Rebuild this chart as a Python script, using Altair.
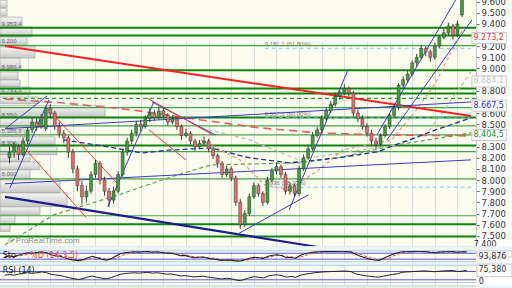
import altair as alt
import pandas as pd

# ---------------- price candles ----------------
opens = [8200,8250,8300,8230,8350,8450,8520,8480,8460,8640,8600,8480,8420,8380,8250,8100,7950,7850,7900,8050,
         8150,8000,7900,7820,7900,8050,8250,8350,8420,8500,8480,8550,8600,8560,8620,8580,8520,8550,8480,8400,
         8420,8350,8300,8330,8350,8280,8220,8150,8050,8100,8020,7800,7600,7700,7850,7950,7880,7800,8000,8080,
         8120,8050,7900,7950,7880,8100,8200,8280,8400,8450,8550,8620,8680,8750,8780,8820,8780,8600,8550,8480,
         8420,8350,8320,8400,8480,8580,8650,8850,8900,8950,9050,9100,9180,9150,9100,9200,9280,9320,9380,9300,9480]
highs = [8300,8340,8320,8380,8470,8560,8550,8590,8660,8680,8620,8520,8450,8400,8280,8130,7990,7950,8080,8180,
         8170,8030,7930,7940,8080,8280,8380,8450,8530,8540,8580,8640,8630,8660,8650,8600,8580,8570,8500,8460,
         8440,8370,8360,8390,8370,8300,8240,8170,8130,8120,8040,7830,7730,7880,7980,7970,7900,8030,8110,8160,
         8140,8070,7980,7970,8130,8230,8310,8430,8480,8580,8650,8710,8780,8810,8860,8840,8800,8630,8580,8510,
         8450,8380,8420,8500,8600,8670,8870,8930,8980,9070,9130,9210,9200,9170,9230,9300,9360,9410,9400,9430,9640]
lows = [8150,8200,8180,8210,8320,8420,8440,8460,8440,8560,8450,8380,8330,8200,8060,7900,7780,7800,7880,8020,
        7960,7860,7760,7790,7880,8030,8220,8320,8390,8440,8460,8520,8530,8540,8550,8490,8500,8450,8360,8380,
        8320,8260,8280,8310,8250,8190,8110,8020,8030,7990,7770,7560,7580,7680,7830,7850,7770,7780,7980,8050,
        8020,7870,7870,7850,7860,8080,8180,8260,8380,8430,8530,8600,8660,8720,8760,8750,8570,8520,8450,8390,
        8310,8280,8300,8380,8460,8560,8630,8820,8870,8930,9020,9080,9110,9060,9080,9180,9260,9300,9260,9280,9460]
closes = [8250,8300,8230,8350,8450,8520,8480,8560,8640,8600,8480,8420,8380,8250,8100,7950,7850,7900,8050,8150,
          8000,7900,7820,7900,8050,8250,8350,8420,8500,8480,8550,8600,8560,8620,8580,8520,8550,8480,8400,8420,
          8350,8300,8330,8350,8280,8220,8150,8050,8100,8020,7800,7600,7700,7850,7950,7880,7800,8000,8080,8120,
          8050,7900,7950,7880,8100,8200,8280,8400,8450,8550,8620,8680,8750,8780,8820,8780,8600,8550,8480,8420,
          8350,8320,8400,8480,8580,8650,8850,8900,8950,9050,9100,9180,9150,9100,9200,9280,9320,9380,9300,9400,9620]

# ---------------- oscillators ----------------
stoch_k = [40,55,45,60,75,85,80,88,95,85,65,55,50,35,20,10,5,15,35,50,35,20,10,25,50,75,85,90,95,92,
           95,97,90,95,88,80,82,70,55,58,45,35,40,42,30,22,15,8,12,10,3,2,15,30,40,35,28,50,60,65,
           55,35,40,30,60,75,85,92,95,97,98,97,98,96,97,92,70,50,35,22,12,8,30,50,70,85,95,96,97,98,
           98,97,90,85,92,95,96,97,90,94,94]
stoch_d = [45,48,50,52,60,70,78,82,86,88,82,70,58,48,35,22,12,10,18,32,38,32,20,18,28,48,68,82,90,92,
           94,95,94,93,91,86,83,77,68,60,52,45,40,40,37,30,22,15,12,10,7,5,8,16,28,35,33,38,48,58,
           60,50,42,35,42,55,72,84,91,95,97,97,97,97,96,94,85,68,50,35,22,14,16,30,50,70,84,92,95,97,
           97,97,94,90,89,91,94,96,94,93,93]
rsi14 = [52,56,52,57,61,64,61,64,68,65,57,53,51,45,40,35,32,36,43,48,42,38,35,40,48,56,60,62,64,62,
         64,66,62,64,61,57,58,54,49,50,47,44,46,47,43,40,37,34,37,35,29,25,33,40,45,42,39,48,52,54,
         50,43,46,42,52,57,60,64,66,68,69,70,71,72,72,69,58,54,50,47,44,43,48,52,56,59,66,68,69,71,
         72,73,71,69,71,73,74,75,70,72,75.38]

# ---------------- volume-at-price profile ----------------
profile_lo = [9542,9470,9374,9284,9213,9094,8990,8900,8837,8765,8684,8568,8470,8389,8318,8228,8165,8093,8004,7887,7762,7690,7601,7538]
profile_hi = [9612,9540,9461,9372,9282,9193,9092,8968,8897,8835,8745,8665,8557,8450,8387,8298,8226,8163,8091,8002,7885,7760,7688,7599]
profile_vol = [7,7,22,32,27,35,20,18,20,30,38,105,43,25,55,57,30,40,30,60,67,40,15,10]
profile_label_text = ["9.353,4", "9.200", "8.986,4", "8.793,5", "8.550", "8.386,6", "8.300", "8.000"]
profile_label_price = [9399, 9247, 9014, 8808, 8584, 8441, 8333, 8056]

# ---------------- horizontal levels ----------------
levels_thick = [9365, 9295, 8985, 8820, 8775, 8560, 8310, 7605, 7494]
levels_thin = [9205, 8650, 8485, 8405, 8255, 8010, 7680]
levels_dashed = [8732]
fib_prices = [9181.1, 8557.5, 7936.0]
fib_labels = ["9.181,1 (61,80%)", "8.557,5 (50,00%)", "7.936 (38,20%)"]
fib_start = [56.4, 56.4, 56.4]

# ---------------- trend lines (bar index, price) ----------------
blue_lines = {
    "b1": [(-1, 7967), (102, 8181)],
    "b2": [(-1, 8460), (102, 8700)],
    "b3": [(-1, 8459), (8.3, 8754)],
    "b4": [(0.1, 7930), (8.7, 8718)],
    "b5": [(21.7, 7760), (31.9, 8700)],
    "b6": [(31.5, 8700), (45.5, 8405)],
    "b7": [(50.5, 7518), (66.1, 7868)],
    "b8": [(61.8, 7733), (74.8, 8987)],
    "b9": [(81.2, 8405), (98.6, 9614)],
    "b10": [(83.4, 8360), (102.2, 9435)],
}
red_lines = {
    "r1": [(8.3, 8647), (23.9, 7967)],
    "r2": [(3.3, 8289), (17.0, 7662)],
    "r3": [(30.4, 8736), (44.9, 8405)],
    "r4": [(30.8, 8450), (39.0, 8181)],
}
red_thick = [(-1, 9202), (102, 8575)]
navy_thick = [(-1, 7850), (67.8, 7402)]

ma_red = [(-1, 8727), (12, 8691), (27.1, 8629), (42.3, 8539), (55.3, 8468), (68.3, 8423), (81.3, 8405), (102, 8396)]
ma_navy = [(12, 8360), (20.6, 8306), (29.3, 8243), (35.8, 8270), (44.5, 8288), (53.1, 8199), (61.8, 8154),
           (72.6, 8199), (81.3, 8253), (94.2, 8450), (102, 8557)]
ma_pink = [(42.3, 8360), (50.9, 8181), (56.4, 7957), (61.8, 7912), (68.3, 8091), (73.7, 8271), (79.1, 8315),
           (84.5, 8360), (89.9, 8629), (94.2, 8871), (100.1, 9345)]
ma_gray = [(42.3, 8468), (53.1, 8360), (63.9, 8181), (74.8, 8253), (85.6, 8315), (92.1, 8405), (102, 8969)]
ma_green = [(-1, 7420), (9.8, 7688), (22.8, 7850), (35.8, 8029), (44.5, 8136), (63.9, 8154), (72.6, 8199),
            (85.6, 8315), (102, 8423)]

# value boxes on the price scale
box_text = ["9.273,2", "8.884,1", "8.667,5", "8.404,5"]
box_price = [9273.2, 8884.1, 8667.5, 8404.5]
box_color = ["#e03a3a", "#c4c4c4", "#2a2ab8", "#2a8a2a"]

# axis tick labels (those hidden behind value boxes left out)
axis_ticks = [7500, 7600, 7700, 7800, 7900, 8000, 8100, 8200, 8300, 8500, 8600, 8800, 9000, 9100, 9200, 9400, 9500, 9600]

W, H = 476, 288
PX = alt.Scale(domain=[-1, 102], nice=False, zero=False)
PY = alt.Scale(domain=[7400, 9614], range=[247, 0], nice=False, zero=False)
SY = alt.Scale(domain=[-19, 105], range=[263, 250.8], nice=False, zero=False)
RY = alt.Scale(domain=[0, 100], range=[286, 265.3], nice=False, zero=False)
VX = alt.Scale(domain=[0, W], nice=False, zero=False)

grid_axis = alt.Axis(values=list(range(4, 100, 5)), grid=True, gridColor="#dcdcdc", gridWidth=1,
                     labels=False, ticks=False, domain=False, title=None)
price_axis = alt.Axis(orient="right", values=axis_ticks,
                      labelExpr="replace(format(datum.value, ','), ',', '.')",
                      tickSize=3, tickColor="#666666", domain=True, domainColor="#c8c8c8",
                      labelFont="DejaVu Sans", labelFontSize=8.5, labelColor="#333333",
                      labelPadding=2, labelOverlap=False, grid=False, title=None)


def X(f):
    return alt.X(f, type="quantitative", scale=PX, axis=grid_axis)


def Y(f):
    return alt.Y(f, type="quantitative", scale=PY, axis=price_axis)


def pts(d):
    rows = []
    for name, ps in d.items():
        for k, (x, p) in enumerate(ps):
            rows.append({"name": name, "x": x, "p": p, "o": k})
    return pd.DataFrame(rows)


def seq(ps, name="s"):
    return pts({name: ps})


candles = pd.DataFrame({"i": list(range(len(closes))), "open": opens, "high": highs,
                        "low": lows, "close": closes})

# ---------------- main price panel ----------------
wick = alt.Chart(candles).mark_rule(color="#3a3a3a", strokeWidth=1).encode(
    x=X("i"), y=Y("low"), y2="high")
body = alt.Chart(candles).transform_calculate(
    dir="datum.close >= datum.open ? 'up' : 'down'"
).mark_bar(size=3, stroke="#333333", strokeWidth=0.5).encode(
    x=X("i"), y=Y("open"), y2="close",
    color=alt.Color("dir:N", scale=alt.Scale(domain=["up", "down"], range=["#3f9f3f", "#e46e6e"]), legend=None))

lv_thick = alt.Chart(pd.DataFrame({"p": levels_thick})).mark_rule(color="#0a850a", strokeWidth=2).encode(y=Y("p"))
lv_thin = alt.Chart(pd.DataFrame({"p": levels_thin})).mark_rule(color="#44a544", strokeWidth=1.2).encode(y=Y("p"))
lv_dash = alt.Chart(pd.DataFrame({"p": levels_dashed})).mark_rule(
    color="#2e9e2e", strokeWidth=1.3, strokeDash=[4, 3]).encode(y=Y("p"))

fib_df = pd.DataFrame({"p": fib_prices, "t": fib_labels, "x": fib_start, "x2": [102] * 3})
fib_rule = alt.Chart(fib_df).mark_rule(color="#7cc4ee", strokeWidth=1, strokeDash=[4, 3]).encode(
    x=X("x"), x2="x2", y=Y("p"))
fib_text = alt.Chart(fib_df).mark_text(align="left", baseline="bottom", dy=-1, fontSize=6,
                                       font="Liberation Sans", color="#777777").encode(
    x=X("x"), y=Y("p"), text="t:N")


def line_layer(df, color, width, dash=None, opacity=1.0):
    kw = dict(color=color, strokeWidth=width, opacity=opacity)
    if dash:
        kw["strokeDash"] = dash
    return alt.Chart(df).mark_line(**kw).encode(x=X("x"), y=Y("p"), detail="name:N", order="o:Q")


ma_layers = [
    line_layer(seq(ma_green), "#4aa04a", 1.2, [4, 3]),
    line_layer(seq(ma_gray), "#bdbdbd", 1.2, [4, 3]),
    line_layer(seq(ma_red), "#e06060", 1.6, [8, 5]),
    line_layer(seq(ma_navy), "#2a2a9a", 1.3, [5, 3]),
    line_layer(seq(ma_pink), "#f08a7a", 1.2, [3, 3]),
]
tl_blue = line_layer(pts(blue_lines), "#3b3bc4", 1)
tl_red = line_layer(pts(red_lines), "#f03a3a", 1)
tl_red_thick = line_layer(seq(red_thick), "#ff2020", 2)
tl_navy = line_layer(seq(navy_thick), "#1c1c8c", 2.2)

bottom_rule = alt.Chart(pd.DataFrame({"p": [7402]})).mark_rule(color="#a9cfe8", strokeWidth=1).encode(y=Y("p"))
copyright_t = alt.Chart(pd.DataFrame({"x": [-0.4], "p": [7455], "t": ["\u00a9 ProRealTime.com"]})).mark_text(
    align="left", baseline="middle", fontSize=8, font="Liberation Sans", color="#8a8a8a").encode(
    x=X("x"), y=Y("p"), text="t:N")

box_df = pd.DataFrame({"t": box_text, "p": box_price, "c": box_color, "x": [102.2] * 4, "x2": [109.8] * 4})
boxes = alt.Chart(box_df).transform_calculate(lo="datum.p - 50", hi="datum.p + 50").mark_rect(
    fill="#ffffff", stroke="#c8c8c8", strokeWidth=1).encode(x=X("x"), x2="x2", y=Y("lo"), y2="hi")
box_txt = alt.Chart(box_df).mark_text(align="left", baseline="middle", dx=1.5, fontSize=8,
                                      font="DejaVu Sans").encode(
    x=X("x"), y=Y("p"), text="t:N", color=alt.Color("c:N", scale=None))
low_lab = alt.Chart(pd.DataFrame({"x": [102.6], "p": [7416], "t": ["7.400"]})).mark_text(
    align="left", baseline="middle", fontSize=8, font="DejaVu Sans", color="#333333").encode(
    x=X("x"), y=Y("p"), text="t:N")

main = alt.layer(
    lv_thin, lv_thick, lv_dash, fib_rule, fib_text,
    *ma_layers, tl_red_thick, tl_navy, tl_blue, tl_red,
    wick, body, bottom_rule, copyright_t, boxes, box_txt, low_lab
)

# ---------------- volume profile (own horizontal scale) ----------------
prof_df = pd.DataFrame({"lo": profile_lo, "hi": profile_hi, "vol": profile_vol, "base": [0] * len(profile_vol)})
grad = alt.Gradient(gradient="linear", x1=0, x2=0, y1=0, y2=1,
                    stops=[alt.GradientStop(color="#f6f6f6", offset=0),
                           alt.GradientStop(color="#c2c2c2", offset=1)])
prof_bars = alt.Chart(prof_df).mark_rect(fill=grad, stroke="#a4a4a4", strokeWidth=0.8, opacity=0.9).encode(
    x=alt.X("base:Q", scale=VX, axis=None), x2="vol",
    y=alt.Y("lo:Q", scale=PY, axis=None), y2="hi")
prof_lab = alt.Chart(pd.DataFrame({"t": profile_label_text, "p": profile_label_price, "v": [1.5] * 8})).mark_text(
    align="left", baseline="middle", fontSize=6, font="Liberation Sans", color="#666666").encode(
    x=alt.X("v:Q", scale=VX, axis=None), y=alt.Y("p:Q", scale=PY, axis=None), text="t:N")
profile = alt.layer(prof_bars, prof_lab)

# ---------------- stochastic panel ----------------
osc = pd.DataFrame({"i": list(range(len(stoch_k))), "k": stoch_k, "d": stoch_d, "r": rsi14})


def SX(f):
    return alt.X(f, type="quantitative", scale=PX, axis=None)


band = pd.DataFrame({"x": [-1], "x2": [110]})
st_band = alt.Chart(band).transform_calculate(a="105", b="150").mark_rect(fill="#edf5fb").encode(
    x=SX("x"), x2="x2", y=alt.Y("a:Q", scale=SY, axis=None), y2="b:Q")
st_frame = alt.Chart(pd.DataFrame({"v": [105, -19]})).mark_rule(color="#a9cfe8").encode(
    y=alt.Y("v:Q", scale=SY, axis=None))
st_lv = alt.Chart(pd.DataFrame({"v": [80, 20]})).mark_rule(color="#5a5ae0", strokeWidth=1).encode(
    y=alt.Y("v:Q", scale=SY, axis=None))
st_lv2 = alt.Chart(pd.DataFrame({"v": [-6]})).mark_rule(color="#b5d3ee", strokeWidth=1).encode(
    y=alt.Y("v:Q", scale=SY, axis=None))
st_d = alt.Chart(osc).mark_line(color="#e04848", strokeWidth=1, strokeDash=[3, 2]).encode(
    x=SX("i"), y=alt.Y("d:Q", scale=SY, axis=None))
st_k = alt.Chart(osc).mark_line(color="#222222", strokeWidth=1.1).encode(
    x=SX("i"), y=alt.Y("k:Q", scale=SY, axis=None))
st_box_df = pd.DataFrame({"x": [102.2], "x2": [109.8], "v": [93.876], "t": ["93,876"]})
st_box = alt.Chart(st_box_df).transform_calculate(lo="datum.v - 52", hi="datum.v + 10").mark_rect(
    fill="#ffffff", stroke="#c8c8c8").encode(x=SX("x"), x2="x2", y=alt.Y("lo:Q", scale=SY, axis=None), y2="hi:Q")
st_txt = alt.Chart(st_box_df).mark_text(align="left", baseline="middle", dx=1.5, dy=5, fontSize=8,
                                        font="DejaVu Sans", color="#333333").encode(
    x=SX("x"), y=alt.Y("v:Q", scale=SY, axis=None), text="t:N")
st_name = alt.Chart(pd.DataFrame({"x": [-0.4, 5.5], "v": [55, 55], "t": ["Sto", "%D (14,3,5)"],
                                  "c": ["#111111", "#e04848"]})).mark_text(
    align="left", baseline="middle", fontSize=8, font="DejaVu Sans").encode(
    x=SX("x"), y=alt.Y("v:Q", scale=SY, axis=None), text="t:N", color=alt.Color("c:N", scale=None))
stoch = alt.layer(st_band, st_frame, st_lv, st_lv2, st_d, st_k, st_box, st_txt, st_name)

# ---------------- RSI panel ----------------
rs_band = alt.Chart(band).transform_calculate(a="100", b="113").mark_rect(fill="#edf5fb").encode(
    x=SX("x"), x2="x2", y=alt.Y("a:Q", scale=RY, axis=None), y2="b:Q")
rs_band2 = alt.Chart(band).transform_calculate(a="0", b="-12").mark_rect(fill="#edf5fb").encode(
    x=SX("x"), x2="x2", y=alt.Y("a:Q", scale=RY, axis=None), y2="b:Q")
rs_frame = alt.Chart(pd.DataFrame({"v": [100, 0]})).mark_rule(color="#a9cfe8").encode(
    y=alt.Y("v:Q", scale=RY, axis=None))
rs_lv = alt.Chart(pd.DataFrame({"v": [70, 30]})).mark_rule(color="#5a5ae0", strokeWidth=1).encode(
    y=alt.Y("v:Q", scale=RY, axis=None))
rs_lv2 = alt.Chart(pd.DataFrame({"v": [17]})).mark_rule(color="#b5d3ee", strokeWidth=1).encode(
    y=alt.Y("v:Q", scale=RY, axis=None))
rs_line = alt.Chart(osc).mark_line(color="#222222", strokeWidth=1).encode(
    x=SX("i"), y=alt.Y("r:Q", scale=RY, axis=None))
rs_box_df = pd.DataFrame({"x": [102.2], "x2": [109.8], "v": [75.38], "t": ["75,380"]})
rs_box = alt.Chart(rs_box_df).transform_calculate(lo="datum.v - 30", hi="datum.v + 30").mark_rect(
    fill="#ffffff", stroke="#c8c8c8").encode(x=SX("x"), x2="x2", y=alt.Y("lo:Q", scale=RY, axis=None), y2="hi:Q")
rs_txt = alt.Chart(rs_box_df).mark_text(align="left", baseline="middle", dx=1.5, fontSize=8,
                                        font="DejaVu Sans", color="#333333").encode(
    x=SX("x"), y=alt.Y("v:Q", scale=RY, axis=None), text="t:N")
rs_zero = alt.Chart(pd.DataFrame({"x": [102.6], "v": [20], "t": ["0"]})).mark_text(
    align="left", baseline="middle", fontSize=8, font="DejaVu Sans", color="#333333").encode(
    x=SX("x"), y=alt.Y("v:Q", scale=RY, axis=None), text="t:N")
rs_name = alt.Chart(pd.DataFrame({"x": [-0.4], "v": [72], "t": ["RSI (14)"]})).mark_text(
    align="left", baseline="middle", fontSize=8, font="DejaVu Sans", color="#111111").encode(
    x=SX("x"), y=alt.Y("v:Q", scale=RY, axis=None), text="t:N")
rsi = alt.layer(rs_band, rs_band2, rs_frame, rs_lv, rs_lv2, rs_line, rs_box, rs_txt, rs_zero, rs_name)

chart = alt.layer(profile, main, stoch, rsi).resolve_scale(
    x="independent", y="independent", color="independent"
).properties(
    width=W, height=H,
    padding={"left": 0, "top": 0, "right": 36, "bottom": 0},
    autosize=alt.AutoSizeParams(type="none"),
    background="#ffffff",
).configure_view(stroke=None, fill="#fdfdf0")

chart.save("out.html", embed_options={"renderer": "svg", "actions": False})
